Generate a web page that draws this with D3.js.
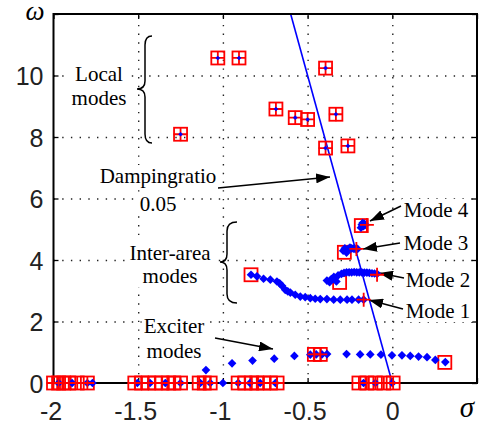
<!DOCTYPE html>
<html>
<head>
<meta charset="utf-8">
<script src="https://cdnjs.cloudflare.com/ajax/libs/d3/7.8.5/d3.min.js"></script>
<style>
  body { margin: 0; background: #fff; }
  svg { display: block; }
</style>
</head>
<body>
<svg width="479" height="425"></svg>
<script>
// tick labels
var xTicks = [-2, -1.5, -1, -0.5, 0, 0.5];
var xTickLabels = ["-2", "-1.5", "-1", "-0.5", "0", ""];
var yTicks = [0, 2, 4, 6, 8, 10, 12];
var yTickLabels = ["0", "2", "4", "6", "8", "10", ""];

// damping ratio 0.05 line (sigma, omega)
var dampLine = [[0, 0], [-0.6, 12]];

// initial eigenvalues (red squares)
var squares = [
  // local modes
  [-1.25, 8.09], [-1.03, 10.57], [-0.905, 10.57], [-0.394, 10.24], [-0.687, 8.91],
  [-0.573, 8.63], [-0.5, 8.57], [-0.333, 8.74], [-0.394, 7.64], [-0.262, 7.71],
  // inter-area modes
  [-0.183, 5.12], [-0.283, 4.25], [-0.311, 3.27], [-0.834, 3.52],
  // exciter modes
  [-0.46, 0.93], [-0.425, 0.93], [0.31, 0.67],
  // real axis
  [-2.0, 0], [-1.97, 0], [-1.94, 0], [-1.91, 0], [-1.86, 0], [-1.8, 0],
  [-1.52, 0], [-1.48, 0], [-1.44, 0], [-1.4, 0], [-1.36, 0], [-1.32, 0], [-1.29, 0], [-1.25, 0],
  [-1.14, 0], [-1.11, 0], [-1.075, 0],
  [-0.91, 0], [-0.87, 0], [-0.83, 0], [-0.8, 0], [-0.76, 0], [-0.72, 0], [-0.68, 0],
  [-0.197, 0], [-0.15, 0], [-0.1, 0], [-0.05, 0], [0.005, 0]
];

// final eigenvalues (red crosses)
var crosses = [
  [-1.25, 8.09], [-1.03, 10.57], [-0.905, 10.57], [-0.394, 10.24], [-0.687, 8.91],
  [-0.573, 8.63], [-0.5, 8.57], [-0.333, 8.74], [-0.394, 7.64], [-0.262, 7.71],
  [-0.15, 5.14], [-0.212, 4.36], [-0.09, 3.52], [-0.169, 2.71],
  [-0.46, 0.93], [-0.425, 0.93],
  [-2.0, 0], [-1.97, 0], [-1.94, 0], [-1.91, 0], [-1.86, 0], [-1.8, 0],
  [-1.52, 0], [-1.48, 0], [-1.44, 0], [-1.4, 0], [-1.36, 0], [-1.32, 0], [-1.29, 0], [-1.25, 0],
  [-1.14, 0], [-1.11, 0], [-1.075, 0],
  [-0.91, 0], [-0.87, 0], [-0.83, 0], [-0.8, 0], [-0.76, 0], [-0.72, 0], [-0.68, 0],
  [-0.197, 0], [-0.15, 0], [-0.1, 0], [-0.05, 0], [0.005, 0]
];

// local mode centres (small blue dots)
var localDots = [
  [-1.25, 8.09], [-1.03, 10.57], [-0.905, 10.57], [-0.394, 10.24], [-0.687, 8.91],
  [-0.573, 8.63], [-0.5, 8.57], [-0.333, 8.74], [-0.394, 7.64], [-0.262, 7.71]
];

// root loci (blue diamonds)
var mode4 = [[-0.185, 5.05], [-0.18, 5.15], [-0.175, 5.2], [-0.17, 5.1], [-0.165, 5.18], [-0.16, 5.14]];
var mode3 = [[-0.29, 4.3], [-0.28, 4.38], [-0.27, 4.24], [-0.26, 4.36], [-0.25, 4.4], [-0.24, 4.38],
  [-0.23, 4.37], [-0.22, 4.36], [-0.205, 4.36]];
var mode2 = [[-0.386, 3.33], [-0.37, 3.28], [-0.36, 3.38], [-0.345, 3.45], [-0.33, 3.3], [-0.32, 3.5],
  [-0.3, 3.55], [-0.285, 3.58], [-0.27, 3.6], [-0.255, 3.6], [-0.24, 3.6], [-0.225, 3.61],
  [-0.21, 3.6], [-0.195, 3.6], [-0.18, 3.6], [-0.165, 3.59], [-0.15, 3.59], [-0.135, 3.58],
  [-0.12, 3.57], [-0.105, 3.56], [-0.09, 3.55]];
var mode1 = [[-0.834, 3.52], [-0.799, 3.47], [-0.76, 3.39], [-0.72, 3.36], [-0.681, 3.3],
  [-0.665, 3.24], [-0.651, 3.16], [-0.632, 3.03], [-0.617, 2.98], [-0.602, 2.94], [-0.573, 2.87],
  [-0.543, 2.81], [-0.514, 2.79], [-0.484, 2.76], [-0.455, 2.74], [-0.425, 2.73], [-0.386, 2.73],
  [-0.346, 2.71], [-0.307, 2.71], [-0.267, 2.71], [-0.238, 2.71], [-0.199, 2.71], [-0.169, 2.71]];
var exciter = [[-1.1, 0.42], [-0.946, 0.64], [-0.825, 0.73], [-0.697, 0.79], [-0.578, 0.88],
  [-0.484, 0.92], [-0.449, 0.93], [-0.415, 0.93], [-0.385, 0.94], [-0.27, 0.94], [-0.19, 0.93],
  [-0.13, 0.93], [-0.067, 0.92], [-0.002, 0.9], [0.057, 0.9], [0.106, 0.88], [0.155, 0.86],
  [0.205, 0.84], [0.254, 0.75], [0.313, 0.68]];
var realDots = [[-1.97, 0], [-1.89, 0], [-1.8, 0], [-1.77, 0], [-1.505, 0], [-1.43, 0], [-1.34, 0],
  [-1.25, 0], [-1.133, 0], [-1.075, 0], [-1.0, 0], [-0.91, 0], [-0.84, 0], [-0.78, 0], [-0.69, 0],
  [-0.17, 0], [-0.1, 0], [0, 0]];

var svg = d3.select("svg");
var pL = 53.5, pR = 477, pT = 14, pB = 383;

var x = d3.scaleLinear().domain([-2, 0.5]).range([pL, pR]);
var y = d3.scaleLinear().domain([0, 12]).range([pB, pT]);

// grid
var grid = svg.append("g").attr("class", "grid");
grid.append("g")
    .attr("transform", "translate(0," + pB + ")")
    .call(d3.axisBottom(x).tickValues([-1.5, -1, -0.5, 0]).tickSize(-(pB - pT)).tickFormat(""));
grid.append("g")
    .attr("transform", "translate(" + pL + ",0)")
    .call(d3.axisLeft(y).tickValues([2, 4, 6, 8, 10]).tickSize(-(pR - pL)).tickFormat(""));
grid.selectAll(".domain").remove();
grid.selectAll("line")
    .attr("stroke", "#222")
    .attr("stroke-width", 1.4)
    .attr("stroke-dasharray", "1.4,7.3");

// damping line
svg.append("path")
    .datum(dampLine)
    .attr("d", d3.line().x(function(d) { return x(d[0]); }).y(function(d) { return y(d[1]); }))
    .attr("stroke", "#0000ff")
    .attr("stroke-width", 1.6)
    .attr("fill", "none");

// axes box and ticks
svg.append("rect")
    .attr("x", pL).attr("y", pT)
    .attr("width", pR - pL).attr("height", pB - pT)
    .attr("fill", "none").attr("stroke", "#000").attr("stroke-width", 2);

function tickAxis(axis, tr) {
  var g = svg.append("g").attr("transform", tr).call(axis);
  g.select(".domain").remove();
  g.selectAll("line").attr("stroke", "#000").attr("stroke-width", 1.3);
  return g;
}
var xb = tickAxis(d3.axisBottom(x).tickValues(xTicks).tickSizeInner(-5).tickSizeOuter(0)
    .tickFormat(function(d, i) { return xTickLabels[i]; }), "translate(0," + pB + ")");
xb.selectAll("text").attr("y", 0).attr("dy", "37px").attr("dx", function(d) { return d < 0 ? -3 : 0; });
var yl = tickAxis(d3.axisLeft(y).tickValues(yTicks).tickSizeInner(-5).tickSizeOuter(0)
    .tickFormat(function(d, i) { return yTickLabels[i]; }), "translate(" + pL + ",0)");
yl.selectAll("text").attr("x", -10).attr("dy", "0.36em");
tickAxis(d3.axisTop(x).tickValues(xTicks).tickSizeInner(-5).tickSizeOuter(0).tickFormat(""), "translate(0," + pT + ")");
tickAxis(d3.axisRight(y).tickValues(yTicks).tickSizeInner(-5).tickSizeOuter(0).tickFormat(""), "translate(" + pR + ",0)");
svg.selectAll(".tick text")
    .attr("font-family", "Liberation Sans, Arial, sans-serif")
    .attr("font-size", 25)
    .attr("fill", "#222");

svg.append("text").text("ω")
    .attr("x", 35).attr("y", 20)
    .attr("text-anchor", "middle")
    .attr("font-family", "Liberation Serif, Times New Roman, serif")
    .attr("font-style", "italic").attr("font-size", 27);
svg.append("text").text("σ")
    .attr("x", 467).attr("y", 417)
    .attr("text-anchor", "middle")
    .attr("font-family", "Liberation Serif, Times New Roman, serif")
    .attr("font-style", "italic").attr("font-size", 29);

// annotation text blocks (white background)
function label(lines, cx, baselines) {
  var g = svg.append("g");
  var bg = g.append("rect").attr("fill", "#fff");
  var t = g.append("text")
      .attr("text-anchor", "middle")
      .attr("font-family", "Liberation Serif, Times New Roman, serif")
      .attr("font-size", 21);
  lines.forEach(function(s, i) {
    t.append("tspan").attr("x", cx).attr("y", baselines[i]).text(s);
  });
  var b = t.node().getBBox();
  bg.attr("x", b.x - 2).attr("y", b.y + 1).attr("width", b.width + 4).attr("height", b.height - 2);
}
label(["Local", "modes"], 99, [81, 105]);
label(["Dampingratio"], 158, [183]);
label(["0.05"], 158, [211]);
label(["Inter-area", "modes"], 170, [260, 283]);
label(["Exciter", "modes"], 174, [333, 358]);
label(["Mode 4"], 436, [217]);
label(["Mode 3"], 436, [250]);
label(["Mode 2"], 438, [287]);
label(["Mode 1"], 438, [318]);

// braces
function brace(tipX, spineX, armX, y0, yMid, y1) {
  var p = d3.path();
  p.moveTo(armX, y0);
  p.quadraticCurveTo(spineX, y0, spineX, y0 + 9);
  p.lineTo(spineX, yMid - 8);
  p.quadraticCurveTo(spineX, yMid, tipX, yMid);
  p.quadraticCurveTo(spineX, yMid, spineX, yMid + 8);
  p.lineTo(spineX, y1 - 9);
  p.quadraticCurveTo(spineX, y1, armX, y1);
  svg.append("path").attr("d", p.toString())
      .attr("fill", "none").attr("stroke", "#000").attr("stroke-width", 1.5);
}
brace(137, 145, 152, 36, 89, 143);
brace(220, 227, 237, 222, 262, 303);

// arrows
svg.append("defs").append("marker")
    .attr("id", "head")
    .attr("markerUnits", "userSpaceOnUse")
    .attr("viewBox", "0 0 14 10")
    .attr("refX", 14).attr("refY", 5)
    .attr("markerWidth", 14).attr("markerHeight", 10)
    .attr("orient", "auto")
    .append("path").attr("d", "M0,0 L14,5 L0,10 Z").attr("fill", "#000");

var arrows = [
  [218, 188, 330, 177],
  [215, 338, 273, 349],
  [401, 206, 370, 221],
  [400, 243, 363, 249],
  [404, 278, 379, 273],
  [403, 309, 369, 300]
];
svg.selectAll(".arrow").data(arrows).enter().append("line")
    .attr("class", "arrow")
    .attr("x1", function(d) { return d[0]; }).attr("y1", function(d) { return d[1]; })
    .attr("x2", function(d) { return d[2]; }).attr("y2", function(d) { return d[3]; })
    .attr("stroke", "#000").attr("stroke-width", 1.5)
    .attr("marker-end", "url(#head)");

// markers
var diamond = d3.symbol().type(d3.symbolDiamond2).size(48);
var blueDots = [].concat(realDots, exciter, mode1, mode2, mode3, mode4);

svg.selectAll(".sq").data(squares).enter().append("rect")
    .attr("class", "sq")
    .attr("x", function(d) { return x(d[0]) - 6.5; })
    .attr("y", function(d) { return y(d[1]) - 6.5; })
    .attr("width", 13).attr("height", 13)
    .attr("fill", "none").attr("stroke", "#ff0000").attr("stroke-width", 1.8);

svg.selectAll(".dm").data(blueDots).enter().append("path")
    .attr("class", "dm")
    .attr("d", diamond)
    .attr("transform", function(d) { return "translate(" + x(d[0]) + "," + y(d[1]) + ")"; })
    .attr("fill", "#0000ff");

svg.selectAll(".cr").data(crosses).enter().append("path")
    .attr("class", "cr")
    .attr("d", "M-7,0H7M0,-7V7")
    .attr("transform", function(d) { return "translate(" + x(d[0]) + "," + y(d[1]) + ")"; })
    .attr("stroke", "#ff0000").attr("stroke-width", 1.8);

svg.selectAll(".ld").data(localDots).enter().append("path")
    .attr("class", "ld")
    .attr("d", d3.symbol().type(d3.symbolDiamond2).size(14))
    .attr("transform", function(d) { return "translate(" + x(d[0]) + "," + y(d[1]) + ")"; })
    .attr("fill", "#0000ff");
</script>
</body>
</html>
